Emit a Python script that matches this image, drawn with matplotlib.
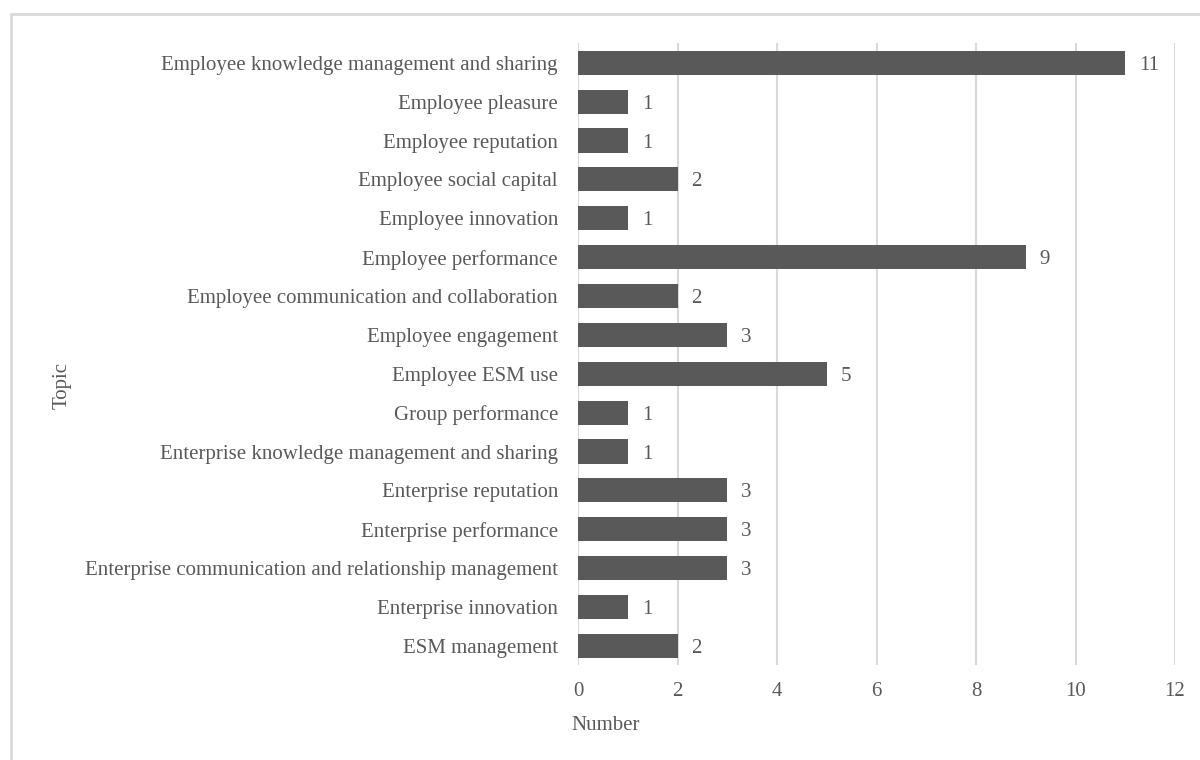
import matplotlib.pyplot as plt
from matplotlib.patches import Rectangle

topics = [
    "Employee knowledge management and sharing",
    "Employee pleasure",
    "Employee reputation",
    "Employee social capital",
    "Employee innovation",
    "Employee performance",
    "Employee communication and collaboration",
    "Employee engagement",
    "Employee ESM use",
    "Group performance",
    "Enterprise knowledge management and sharing",
    "Enterprise reputation",
    "Enterprise performance",
    "Enterprise communication and relationship management",
    "Enterprise innovation",
    "ESM management",
]
counts = [11, 1, 1, 2, 1, 9, 2, 3, 5, 1, 1, 3, 3, 3, 1, 2]
x_ticks = [0, 2, 4, 6, 8, 10, 12]

bar_color = "#595959"
text_color = "#595959"
grid_color = "#d9d9d9"
fs = 15

plt.rcParams['font.family'] = ['Liberation Serif', 'DejaVu Serif']

fig = plt.figure(figsize=(12, 7.6), dpi=100)
ax = fig.add_axes([0.4817, 0.1245, 0.4975, 0.8185])

# top item drawn first -> reverse positions
ypos = list(range(len(topics)))[::-1]
ax.barh(ypos, counts, height=0.62, color=bar_color, zorder=3)

for y, v in zip(ypos, counts):
    ax.text(v + 0.28, y, str(v), va='center_baseline', ha='left',
            fontsize=fs, color=text_color)

ax.set_yticks(ypos)
ax.set_yticklabels(topics, fontsize=fs, color=text_color)
ax.set_ylim(-0.5, len(topics) - 0.5)
ax.set_xlim(0, 12)
ax.set_xticks(x_ticks)
ax.set_xticklabels([str(t) for t in x_ticks], fontsize=fs, color=text_color)
ax.tick_params(axis='both', length=0)
ax.tick_params(axis='x', pad=12)
ax.tick_params(axis='y', pad=14.5)

ax.grid(axis='x', color=grid_color, linewidth=1.5, zorder=0)
ax.set_axisbelow(True)
for s in ax.spines.values():
    s.set_visible(False)

fig.text(0.505, 0.046, "Number", fontsize=fs, color=text_color,
         ha='center', va='center')
fig.text(0.052, 0.493, "Topic", rotation=90, fontsize=fs, color=text_color,
         ha='center', va='center')

# light frame, cropped on the right/bottom like the reference
fig.add_artist(Rectangle((0.0095, -0.1), 1.2, 1.0815, transform=fig.transFigure,
                         fill=False, edgecolor="#d9d9d9", linewidth=2))

fig.savefig("out.png", dpi=100, facecolor='white')
